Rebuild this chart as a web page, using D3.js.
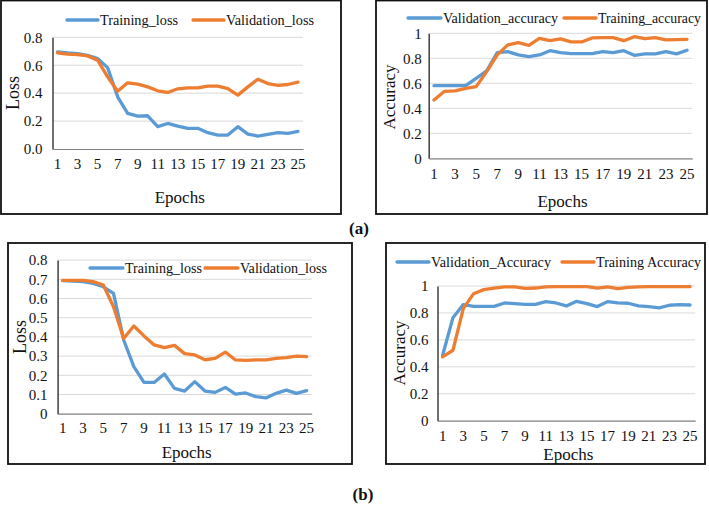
<!DOCTYPE html>
<html><head><meta charset="utf-8">
<script src="https://cdn.jsdelivr.net/npm/d3@7"></script>
<style>
html,body{margin:0;padding:0;background:#fff;}
svg{display:block;font-family:"Liberation Serif","Times New Roman",serif;}
</style></head>
<body>
<svg id="chart" width="709" height="505"></svg>
<script>
const epochs = d3.range(1, 26);
const xTickLabels = [1,3,5,7,9,11,13,15,17,19,21,23,25];

// (a) left: loss
const aTrainingLoss = [0.695,0.688,0.683,0.671,0.648,0.583,0.374,0.255,0.236,0.238,0.160,0.183,0.164,0.148,0.148,0.117,0.100,0.100,0.160,0.107,0.093,0.105,0.117,0.112,0.126];
const aValidationLoss = [0.688,0.679,0.676,0.667,0.636,0.517,0.414,0.474,0.464,0.445,0.417,0.405,0.431,0.438,0.438,0.450,0.450,0.433,0.386,0.445,0.500,0.469,0.455,0.462,0.479];
const aLossTicks = [0,0.2,0.4,0.6,0.8];

// (a) right: accuracy
const aValidationAccuracy = [0.581,0.581,0.581,0.581,0.640,0.700,0.845,0.853,0.827,0.813,0.827,0.861,0.845,0.837,0.837,0.837,0.853,0.845,0.861,0.824,0.835,0.835,0.853,0.835,0.864];
const aTrainingAccuracy = [0.467,0.536,0.539,0.560,0.573,0.693,0.827,0.907,0.925,0.904,0.960,0.941,0.955,0.931,0.931,0.963,0.965,0.965,0.941,0.973,0.957,0.965,0.947,0.949,0.952];
const aAccTicks = [0,0.2,0.4,0.6,0.8,1];

// (b) left: loss
const bTrainingLoss = [0.693,0.691,0.688,0.679,0.661,0.627,0.384,0.245,0.163,0.163,0.207,0.132,0.118,0.167,0.118,0.111,0.137,0.102,0.108,0.089,0.082,0.106,0.123,0.106,0.120];
const bValidationLoss = [0.694,0.694,0.694,0.688,0.670,0.557,0.392,0.457,0.405,0.358,0.344,0.356,0.313,0.306,0.281,0.288,0.321,0.280,0.278,0.280,0.280,0.288,0.292,0.300,0.297];
const bLossTicks = [0,0.1,0.2,0.3,0.4,0.5,0.6,0.7,0.8];

// (b) right: accuracy
const bValidationAccuracy = [0.486,0.765,0.862,0.849,0.849,0.849,0.874,0.869,0.864,0.864,0.884,0.874,0.852,0.886,0.869,0.847,0.884,0.874,0.872,0.852,0.847,0.837,0.857,0.862,0.859];
const bTrainingAccuracy = [0.474,0.523,0.832,0.943,0.973,0.985,0.993,0.993,0.983,0.985,0.993,0.995,0.995,0.995,0.995,0.985,0.993,0.980,0.990,0.993,0.995,0.995,0.995,0.995,0.995];
const bAccTicks = [0,0.2,0.4,0.6,0.8,1];

const BLUE = "#5B9BD5", ORANGE = "#ED7D31";
const svg = d3.select("#chart");

const panels = [
  {
    box:[1,0.5,341,214], plot:{l:52.5,r:303,t:37.3,b:149}, ymax:0.8, ticks:aLossTicks, tickFmt:d3.format(".1f"),
    ylab:"Loss", ylabX:13, ylabY:93, ylabSize:18, xlabY:203, tickGap:10, xTickDy:21,
    series:[
      {name:"Training_loss", vals:aTrainingLoss, color:BLUE, lx:67, ly:20, lw:31, tw:78},
      {name:"Validation_loss", vals:aValidationLoss, color:ORANGE, lx:193, ly:20, lw:31, tw:88}
    ]
  },
  {
    box:[376,0.5,707,214], plot:{l:428.7,r:692.3,t:33.3,b:158.3}, ymax:1, ticks:aAccTicks, tickFmt:d => d===0||d===1 ? String(d) : d3.format(".1f")(d),
    ylab:"Accuracy", ylabX:389, ylabY:97, ylabSize:17, xlabY:207, tickGap:7, xTickDy:22,
    series:[
      {name:"Validation_accuracy", vals:aValidationAccuracy, color:BLUE, lx:408, ly:18, lw:33, tw:115},
      {name:"Training_accuracy", vals:aTrainingAccuracy, color:ORANGE, lx:564, ly:18, lw:32, tw:103}
    ]
  },
  {
    box:[8,243,352,464], plot:{l:57.6,r:311.7,t:260.1,b:413.7}, ymax:0.8, ticks:bLossTicks, tickFmt:d => d===0 ? "0" : d3.format(".1f")(d),
    ylab:"Loss", ylabX:20, ylabY:337, ylabSize:18, xlabY:458, tickGap:10, xTickDy:21,
    series:[
      {name:"Training_loss", vals:bTrainingLoss, color:BLUE, lx:90, ly:268, lw:33, tw:77},
      {name:"Validation_loss", vals:bValidationLoss, color:ORANGE, lx:205, ly:268, lw:33, tw:87}
    ]
  },
  {
    box:[386,243,705,464], plot:{l:437.5,r:695.2,t:286,b:420.7}, ymax:1, ticks:bAccTicks, tickFmt:d => d===0||d===1 ? String(d) : d3.format(".1f")(d),
    ylab:"Accuracy", ylabX:399, ylabY:353, ylabSize:17, xlabY:460, tickGap:9, xTickDy:22,
    series:[
      {name:"Validation_Accuracy", vals:bValidationAccuracy, color:BLUE, lx:397, ly:262, lw:32, tw:120},
      {name:"Training Accuracy", vals:bTrainingAccuracy, color:ORANGE, lx:562, ly:262, lw:32, tw:105}
    ]
  }
];

panels.forEach(p => {
  const g = svg.append("g");
  const [x0,y0,x1,y1] = p.box;
  g.append("rect").attr("x",x0).attr("y",y0).attr("width",x1-x0).attr("height",y1-y0)
    .attr("fill","none").attr("stroke","#111").attr("stroke-width",1.8);

  const x = d3.scaleBand().domain(epochs).range([p.plot.l, p.plot.r]);
  const cx = d => x(d) + x.bandwidth()/2;
  const y = d3.scaleLinear().domain([0, p.ymax]).range([p.plot.b, p.plot.t]);

  g.append("g").selectAll("line").data(p.ticks.filter(t => t > 0)).join("line")
    .attr("x1", p.plot.l).attr("x2", p.plot.r)
    .attr("y1", d => y(d)).attr("y2", d => y(d))
    .attr("stroke", "#d9d9d9").attr("stroke-width", 1);

  const yAxis = d3.axisLeft(y).tickValues(p.ticks).tickFormat(p.tickFmt).tickSize(0).tickPadding(p.tickGap);
  const ya = g.append("g").attr("transform", `translate(${p.plot.l},0)`).call(yAxis);
  ya.select(".domain").attr("stroke", "#404040").attr("stroke-width", 1.5);
  ya.selectAll("text").attr("font-size", 15).attr("fill", "#111").attr("font-family", "Liberation Serif");

  const xAxis = d3.axisBottom(x).tickValues(xTickLabels).tickSize(0).tickPadding(p.xTickDy - 12);
  const xa = g.append("g").attr("transform", `translate(0,${p.plot.b})`).call(xAxis);
  xa.select(".domain").attr("stroke", "#808080").attr("stroke-width", 1.2);
  xa.selectAll("text").attr("font-size", 15).attr("fill", "#111").attr("font-family", "Liberation Serif");

  const line = d3.line().x((d,i) => cx(epochs[i])).y(d => y(d));
  p.series.forEach(s => {
    g.append("path").datum(s.vals).attr("d", line)
      .attr("fill","none").attr("stroke", s.color).attr("stroke-width", 3.3)
      .attr("stroke-linejoin","round").attr("stroke-linecap","round");
  });

  p.series.forEach(s => {
    g.append("line").attr("x1", s.lx).attr("x2", s.lx + s.lw).attr("y1", s.ly).attr("y2", s.ly)
      .attr("stroke", s.color).attr("stroke-width", 3.3).attr("stroke-linecap","round");
    g.append("text").attr("x", s.lx + s.lw + 2).attr("y", s.ly + 5)
      .attr("font-size", 15).attr("fill", "#111")
      .attr("textLength", s.tw).attr("lengthAdjust", "spacingAndGlyphs").text(s.name);
  });

  g.append("text").attr("transform", `translate(${p.ylabX},${p.ylabY}) rotate(-90)`)
    .attr("text-anchor","middle").attr("dominant-baseline","central")
    .attr("font-size", p.ylabSize).attr("fill","#111").text(p.ylab);
  g.append("text").attr("x", (p.plot.l + p.plot.r)/2 + 2).attr("y", p.xlabY)
    .attr("text-anchor","middle").attr("font-size", 17).attr("fill","#111").text("Epochs");
});

svg.append("text").attr("x", 359).attr("y", 234).attr("text-anchor","middle")
  .attr("font-size", 17).attr("font-weight","bold").attr("fill","#111").text("(a)");
svg.append("text").attr("x", 363).attr("y", 500).attr("text-anchor","middle")
  .attr("font-size", 17).attr("font-weight","bold").attr("fill","#111").text("(b)");
</script>
</body></html>
